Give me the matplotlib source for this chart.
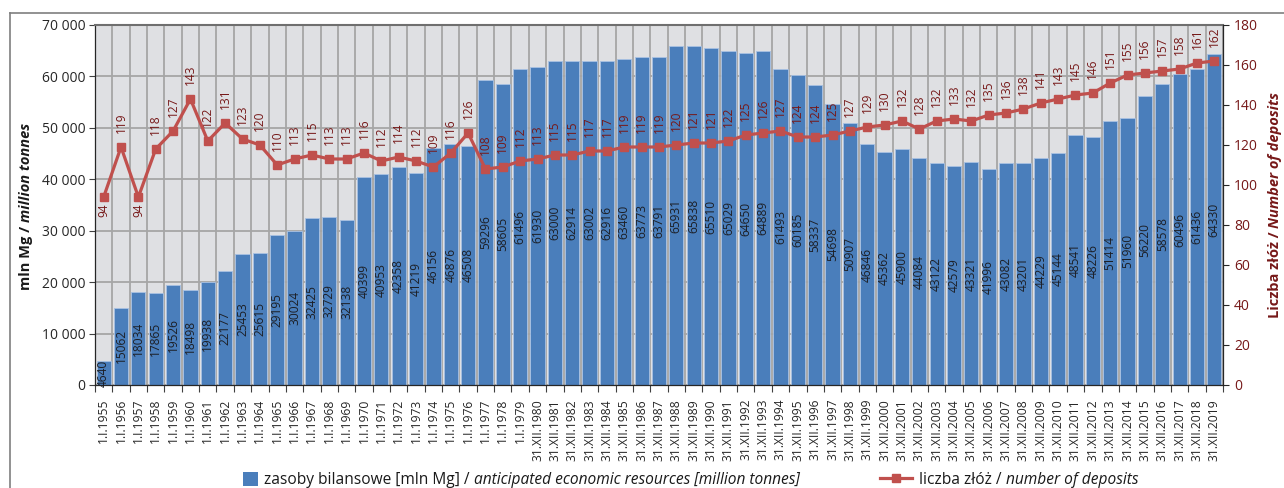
import matplotlib
matplotlib.use("Agg")
import matplotlib.pyplot as plt
from matplotlib.transforms import IdentityTransform
from matplotlib.lines import Line2D
from matplotlib.patches import Rectangle
from matplotlib.ticker import FuncFormatter, FixedLocator

plt.rcParams['font.family'] = ['Open Sans', 'DejaVu Sans']

years_a = list(range(1955, 1980))
years_b = list(range(1980, 2020))
categories = [f"1.I.{y}" for y in years_a] + [f"31.XII.{y}" for y in years_b]

resources = [4640, 15062, 18034, 17865, 19526, 18498, 19938, 22177, 25453, 25615,
             29195, 30024, 32425, 32729, 32138, 40399, 40953, 42358, 41219, 46156,
             46876, 46508, 59296, 58605, 61496, 61930, 63000, 62914, 63002, 62916,
             63460, 63773, 63791, 65931, 65838, 65510, 65029, 64650, 64889, 61493,
             60185, 58337, 54698, 50907, 46846, 45362, 45900, 44084, 43122, 42579,
             43321, 41996, 43082, 43201, 44229, 45144, 48541, 48226, 51414, 51960,
             56220, 58578, 60496, 61436, 64330]

deposits = [94, 119, 94, 118, 127, 143, 122, 131, 123, 120,
            110, 113, 115, 113, 113, 116, 112, 114, 112, 109,
            116, 126, 108, 109, 112, 113, 115, 115, 117, 117,
            119, 119, 119, 120, 121, 121, 122, 125, 126, 127,
            124, 124, 125, 127, 129, 130, 132, 128, 132, 133,
            132, 135, 136, 138, 141, 143, 145, 146, 151, 155,
            156, 157, 158, 161, 162]

left_ticks = [0, 10000, 20000, 30000, 40000, 50000, 60000, 70000]
right_ticks = [0, 20, 40, 60, 80, 100, 120, 140, 160, 180]

W, H = 1284, 488
BAR_BLUE = '#4A7EBB'
LINE_RED = '#C0504D'
MAROON = '#761818'
GRID = '#A6A6A6'

fig = plt.figure(figsize=(W / 100, H / 100), dpi=100)
fig.patch.set_facecolor('white')

# outer frame
fig.add_artist(Line2D([10 / W, 1], [1 - 12.5 / H, 1 - 12.5 / H], transform=fig.transFigure,
                      color='#7F7F7F', lw=1.2))
fig.add_artist(Line2D([10.5 / W, 10.5 / W], [0, 1 - 12.5 / H], transform=fig.transFigure,
                      color='#7F7F7F', lw=1.2))

ax = fig.add_axes([95 / W, 1 - 385 / H, (1223 - 95) / W, 360 / H])
ax.set_facecolor('#DFE0E3')
ax.set_axisbelow(True)

x = list(range(len(categories)))
ax.bar(x, resources, width=0.82, color=BAR_BLUE, edgecolor='#A9C2E3', linewidth=0.6, zorder=2)
for i, v in enumerate(resources):
    ax.text(i, v / 2, str(v), rotation=90, ha='center', va='center', fontsize=8.6,
            color='#1C1F26', zorder=3)

ax.set_xlim(-0.5, len(categories) - 0.5)
ax.set_ylim(0, 70000)
ax.set_yticks(left_ticks)
ax.yaxis.set_major_formatter(FuncFormatter(lambda v, p: f"{int(v):,}".replace(",", " ")))
ax.set_xticks(x)
ax.set_xticklabels(categories, rotation=90, fontsize=8.7, color='#262626')
ax.xaxis.set_minor_locator(FixedLocator([i - 0.5 for i in range(len(categories) + 1)]))
ax.tick_params(axis='x', which='major', length=0, pad=10)
ax.tick_params(axis='x', which='minor', length=5, width=0.8, color='#404040')
ax.tick_params(axis='y', length=4, width=0.8, color='#404040', labelsize=10, labelcolor='#262626', pad=3)
ax.grid(axis='y', which='major', color=GRID, lw=1.3)
ax.grid(axis='x', which='minor', color=GRID, lw=1.3)
ax.grid(axis='x', which='major', visible=False)
for s in ['left', 'bottom']:
    ax.spines[s].set_color('#262626')
    ax.spines[s].set_linewidth(0.9)
ax.spines['top'].set_color('#6F6F6F')
ax.spines['top'].set_linewidth(1.5)
ax.spines['right'].set_visible(False)

ax2 = ax.twinx()
ax2.set_ylim(0, 180)
ax2.set_yticks(right_ticks)
ax2.plot(x, deposits, color=LINE_RED, lw=2.3, marker='s', markersize=5.8, zorder=4)
for i, v in enumerate(deposits):
    if v == 94 and i in (0, 2):
        ax2.annotate(str(v), (i, v), xytext=(0, -4.5), textcoords='offset points', rotation=90,
                     ha='center', va='top', fontsize=8.6, color=MAROON)
    else:
        ax2.annotate(str(v), (i, v), xytext=(0, 10), textcoords='offset points', rotation=90,
                     ha='center', va='bottom', fontsize=8.6, color=MAROON)
ax2.tick_params(axis='y', length=4, width=0.8, color='#262626', labelsize=10, labelcolor=MAROON, pad=4)
for s in ['left', 'top', 'bottom']:
    ax2.spines[s].set_visible(False)
ax2.spines['right'].set_color('#262626')
ax2.spines['right'].set_linewidth(0.9)

renderer = fig.canvas.get_renderer()


def measure(s, props):
    t = fig.text(0, 0, s, transform=IdentityTransform(), **props)
    bb = t.get_window_extent(renderer)
    t.remove()
    return bb.width


def rich(parts, x0, y0, rotation=0, center=True):
    """parts: list of (text, props); a space gap is inserted between parts."""
    widths = [measure(s, p) for s, p in parts]
    gaps = [measure("a a", p) - measure("aa", p) for s, p in parts[:-1]]
    total = sum(widths) + sum(gaps)
    pos = (y0 if rotation else x0) - (total / 2 if center else 0)
    for k, ((s, p), w) in enumerate(zip(parts, widths)):
        if rotation == 0:
            fig.text(pos, y0, s, transform=IdentityTransform(), ha='left', va='baseline', **p)
        else:
            fig.text(x0, pos, s, transform=IdentityTransform(), rotation=90,
                     rotation_mode='anchor', ha='left', va='baseline', **p)
        pos += w + (gaps[k] if k < len(gaps) else 0)


# axis titles
lab_fs = 10.5
rich([("mln Mg /", dict(fontsize=lab_fs, fontweight='bold', color='#1A1A1A')),
      ("million tonnes", dict(fontsize=lab_fs, fontweight='bold', fontstyle='italic', color='#1A1A1A'))],
     30, H - 206, rotation=90)
rich([("Liczba złóż /", dict(fontsize=lab_fs, fontweight='bold', color=MAROON)),
      ("Number of deposits", dict(fontsize=lab_fs, fontweight='bold', fontstyle='italic', color=MAROON))],
     1279, H - 205, rotation=90)

# legend
fig.add_artist(Rectangle((243 / W, (H - 486) / H), 15 / W, 14 / H, transform=fig.transFigure,
                         facecolor=BAR_BLUE, edgecolor='none'))
leg_fs = 11.2
rich([("zasoby bilansowe [mln Mg] /", dict(fontsize=leg_fs, color='#1A1A1A')),
      ("anticipated economic resources [million tonnes]", dict(fontsize=leg_fs, fontstyle='italic', color='#1A1A1A'))],
     264, H - 484, rotation=0, center=False)
fig.add_artist(Line2D([880 / W, 912 / W], [(H - 478) / H] * 2, transform=fig.transFigure,
                      color=LINE_RED, lw=2.3))
fig.add_artist(Line2D([896 / W], [(H - 478) / H], transform=fig.transFigure,
                      color=LINE_RED, marker='s', markersize=5.8, lw=0))
rich([("liczba złóż /", dict(fontsize=leg_fs, color='#1A1A1A')),
      ("number of deposits", dict(fontsize=leg_fs, fontstyle='italic', color='#1A1A1A'))],
     919, H - 484, rotation=0, center=False)

fig.savefig("out.png", dpi=100, facecolor='white')
